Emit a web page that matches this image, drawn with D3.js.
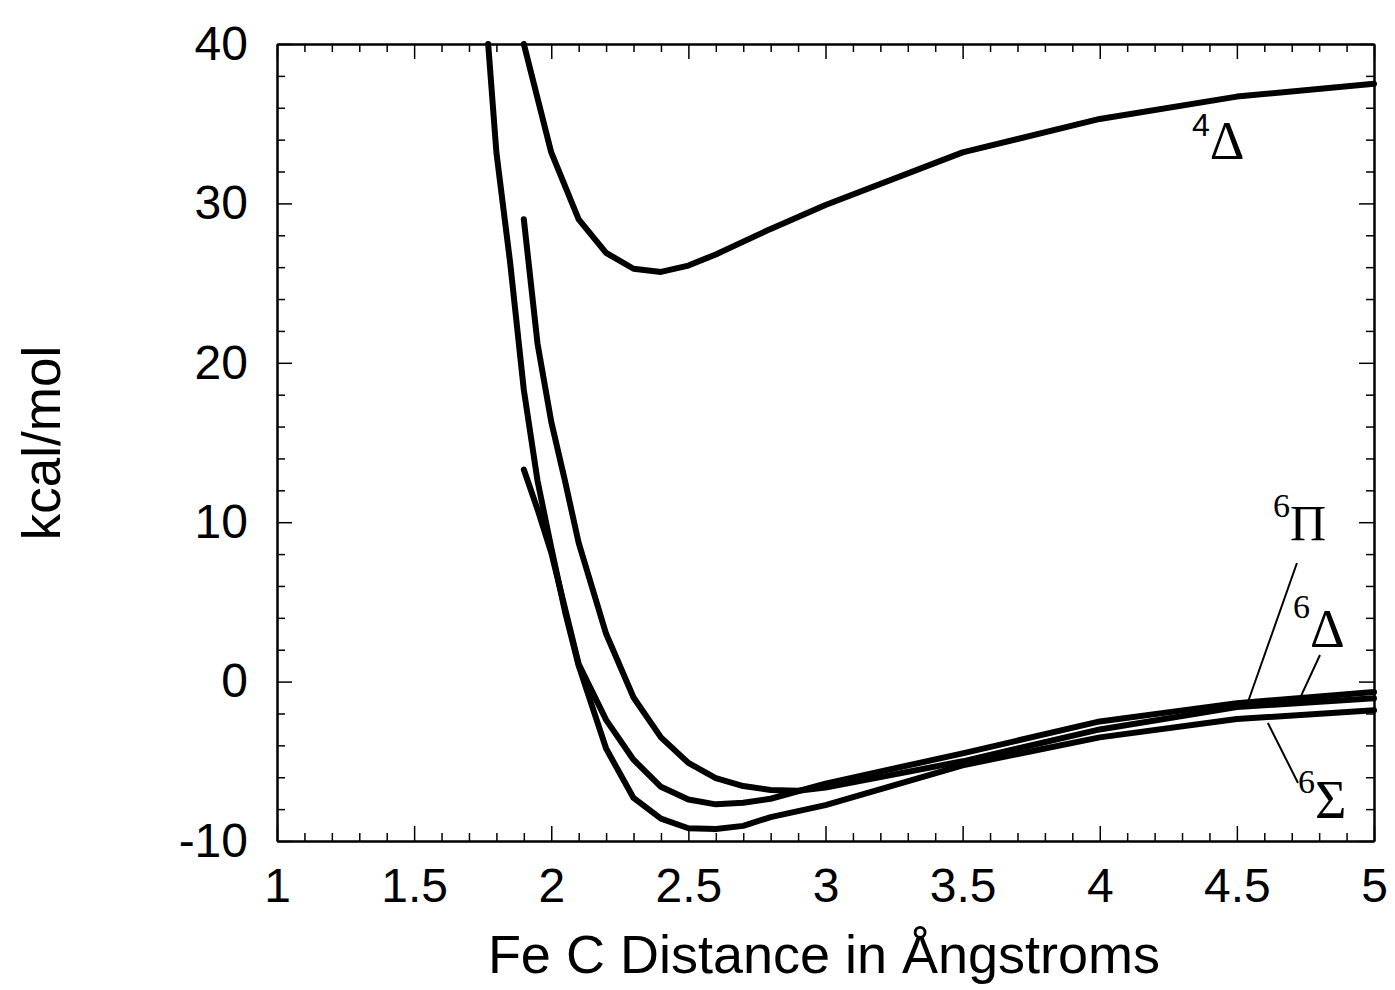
<!DOCTYPE html>
<html>
<head>
<meta charset="utf-8">
<script src="https://cdn.jsdelivr.net/npm/d3@7"></script>
<style>
  body { margin: 0; background: #fff; }
  .tick text { font-family: "Liberation Sans", Arial, sans-serif; }
</style>
</head>
<body>
<svg class="chart"></svg>
<script>
const width = 1395;
const height = 990;
const margin = { top: 44, right: 21, bottom: 149, left: 277 };
const graphWidth = width - margin.left - margin.right;
const graphHeight = height - margin.top - margin.bottom;

// 4 Delta (upper state)
const xDelta4 = [1.9, 2.0, 2.1, 2.2, 2.3, 2.4, 2.5, 2.6, 2.8, 3.0, 3.5, 4.0, 4.5, 5.0];
const yDelta4 = [40, 33.2, 29.0, 26.9, 25.9, 25.7, 26.1, 26.8, 28.4, 29.9, 33.2, 35.3, 36.7, 37.5];

// 6 Sigma (deepest well, starts at the top edge)
const xSigma6 = [1.77, 1.8, 1.85, 1.9, 1.95, 2.0, 2.05, 2.1, 2.2, 2.3, 2.4, 2.5, 2.6, 2.7, 2.8, 3.0, 3.5, 4.0, 4.5, 5.0];
const ySigma6 = [40, 33.2, 26.3, 18.3, 12.6, 8.4, 4.4, 1.0, -4.2, -7.3, -8.6, -9.2, -9.25, -9.05, -8.5, -7.75, -5.25, -3.5, -2.35, -1.8];

// 6 Pi (short curve starting near 13)
const xPi6 = [1.9, 1.95, 2.0, 2.05, 2.1, 2.2, 2.3, 2.4, 2.5, 2.6, 2.7, 2.8, 3.0, 3.5, 4.0, 4.5, 5.0];
const yPi6 = [13.3, 10.8, 8.1, 4.6, 1.1, -2.4, -4.9, -6.6, -7.4, -7.7, -7.6, -7.35, -6.4, -4.5, -2.5, -1.35, -0.65];

// 6 Delta (shallow well, starts near 29)
const xDelta6 = [1.9, 1.95, 2.0, 2.05, 2.1, 2.2, 2.3, 2.4, 2.5, 2.6, 2.7, 2.8, 2.9, 3.0, 3.5, 4.0, 4.5, 5.0];
const yDelta6 = [29, 21.2, 16.3, 12.6, 8.7, 3.0, -1.0, -3.5, -5.1, -6.05, -6.55, -6.8, -6.85, -6.65, -5.0, -3.0, -1.6, -1.05];

const xMajor = [1, 1.5, 2, 2.5, 3, 3.5, 4, 4.5, 5];
const yMajor = [-10, 0, 10, 20, 30, 40];

// state labels: superscript, symbol, anchor (data units), drop of symbol
const labelSup = ["4", "6", "6", "6"];
const labelSym = ["\u0394", "\u03A0", "\u0394", "\u03A3"];
const labelX = [4.336, 4.632, 4.705, 4.723];
const labelY = [34.2, 10.3, 4.0, -7.0];
const labelDrop = [23, 23, 29, 25];

// leader lines [x1, y1, x2, y2] in data units
const leaders = [
  [4.719, 7.44, 4.541, -1.25],
  [4.803, 1.67, 4.723, -1.3],
  [4.613, -2.6, 4.723, -6.36]
];

const svg = d3.select(".chart").attr("width", width).attr("height", height);

const xScale = d3.scaleLinear().domain([1, 5]).range([0, graphWidth]);
const yScale = d3.scaleLinear().domain([-10, 40]).range([graphHeight, 0]);

const graph = svg
  .append("g")
  .attr("transform", `translate(${margin.left}, ${margin.top})`);

const xMinor = d3.range(11, 50).map(d => d / 10).filter(d => !xMajor.some(m => Math.abs(m - d) < 1e-9));
const yMinor = d3.range(-10, 41, 2).filter(d => d % 10 !== 0);

const fmt = d => String(d);

// bottom
graph.append("g")
  .attr("transform", `translate(0, ${graphHeight})`)
  .call(d3.axisBottom(xScale).tickValues(xMajor).tickSize(-15).tickSizeOuter(0).tickPadding(27).tickFormat(fmt))
  .call(g => g.selectAll("text").style("font-size", "48px"));
graph.append("g")
  .attr("transform", `translate(0, ${graphHeight})`)
  .call(d3.axisBottom(xScale).tickValues(xMinor).tickSize(-8).tickSizeOuter(0).tickFormat(""));

// top
graph.append("g")
  .call(d3.axisTop(xScale).tickValues(xMajor).tickSize(-15).tickSizeOuter(0).tickFormat(""));
graph.append("g")
  .call(d3.axisTop(xScale).tickValues(xMinor).tickSize(-8).tickSizeOuter(0).tickFormat(""));

// left
graph.append("g")
  .call(d3.axisLeft(yScale).tickValues(yMajor).tickSize(-15).tickSizeOuter(0).tickPadding(29).tickFormat(fmt))
  .call(g => g.selectAll("text").style("font-size", "48px"));
graph.append("g")
  .call(d3.axisLeft(yScale).tickValues(yMinor).tickSize(-8).tickSizeOuter(0).tickFormat(""));

// right
graph.append("g")
  .attr("transform", `translate(${graphWidth}, 0)`)
  .call(d3.axisRight(yScale).tickValues(yMajor).tickSize(-15).tickSizeOuter(0).tickFormat(""));
graph.append("g")
  .attr("transform", `translate(${graphWidth}, 0)`)
  .call(d3.axisRight(yScale).tickValues(yMinor).tickSize(-8).tickSizeOuter(0).tickFormat(""));

graph.selectAll(".domain").attr("stroke", "#000").attr("stroke-width", 2);
graph.selectAll(".tick line").attr("stroke", "#000").attr("stroke-width", 1.5);
graph.selectAll(".tick text").attr("fill", "#000");

// curves
const curves = [
  [xDelta4, yDelta4],
  [xSigma6, ySigma6],
  [xPi6, yPi6],
  [xDelta6, yDelta6]
];

const line = d3.line()
  .x(d => xScale(d[0]))
  .y(d => yScale(d[1]));

graph.selectAll(".curve")
  .data(curves.map(c => d3.zip(c[0], c[1])))
  .enter()
  .append("path")
  .attr("class", "curve")
  .attr("d", line)
  .attr("fill", "none")
  .attr("stroke", "#000")
  .attr("stroke-width", 6)
  .attr("stroke-linejoin", "round")
  .attr("stroke-linecap", "round");

// leader lines
graph.selectAll(".leader")
  .data(leaders)
  .enter()
  .append("line")
  .attr("class", "leader")
  .attr("x1", d => xScale(d[0]))
  .attr("y1", d => yScale(d[1]))
  .attr("x2", d => xScale(d[2]))
  .attr("y2", d => yScale(d[3]))
  .attr("stroke", "#000")
  .attr("stroke-width", 2);

// state labels
const labels = graph.selectAll(".state")
  .data(labelSup.map((s, i) => i))
  .enter()
  .append("text")
  .attr("class", "state")
  .attr("x", i => xScale(labelX[i]))
  .attr("y", i => yScale(labelY[i]))
  .style("font-family", "'Liberation Serif', 'Times New Roman', serif")
  .attr("fill", "#000");

labels.append("tspan")
  .style("font-size", i => (i === 0 ? "32px" : "34px"))
  .style("font-family", i => (i === 0 ? "'Liberation Sans', Arial, sans-serif" : null))
  .text(i => labelSup[i]);

labels.append("tspan")
  .attr("dy", i => labelDrop[i])
  .style("font-size", i => (i === 1 ? "50px" : "54px"))
  .text(i => labelSym[i]);

// axis titles
svg.append("text")
  .text("Fe C Distance in \u00C5ngstroms")
  .attr("x", 824)
  .attr("y", 973)
  .attr("text-anchor", "middle")
  .style("font-family", "'Liberation Sans', Arial, sans-serif")
  .style("font-size", "54px");

svg.append("text")
  .text("kcal/mol")
  .attr("transform", "translate(60, 443) rotate(-90)")
  .attr("text-anchor", "middle")
  .style("font-family", "'Liberation Sans', Arial, sans-serif")
  .style("font-size", "53px");
</script>
</body>
</html>
